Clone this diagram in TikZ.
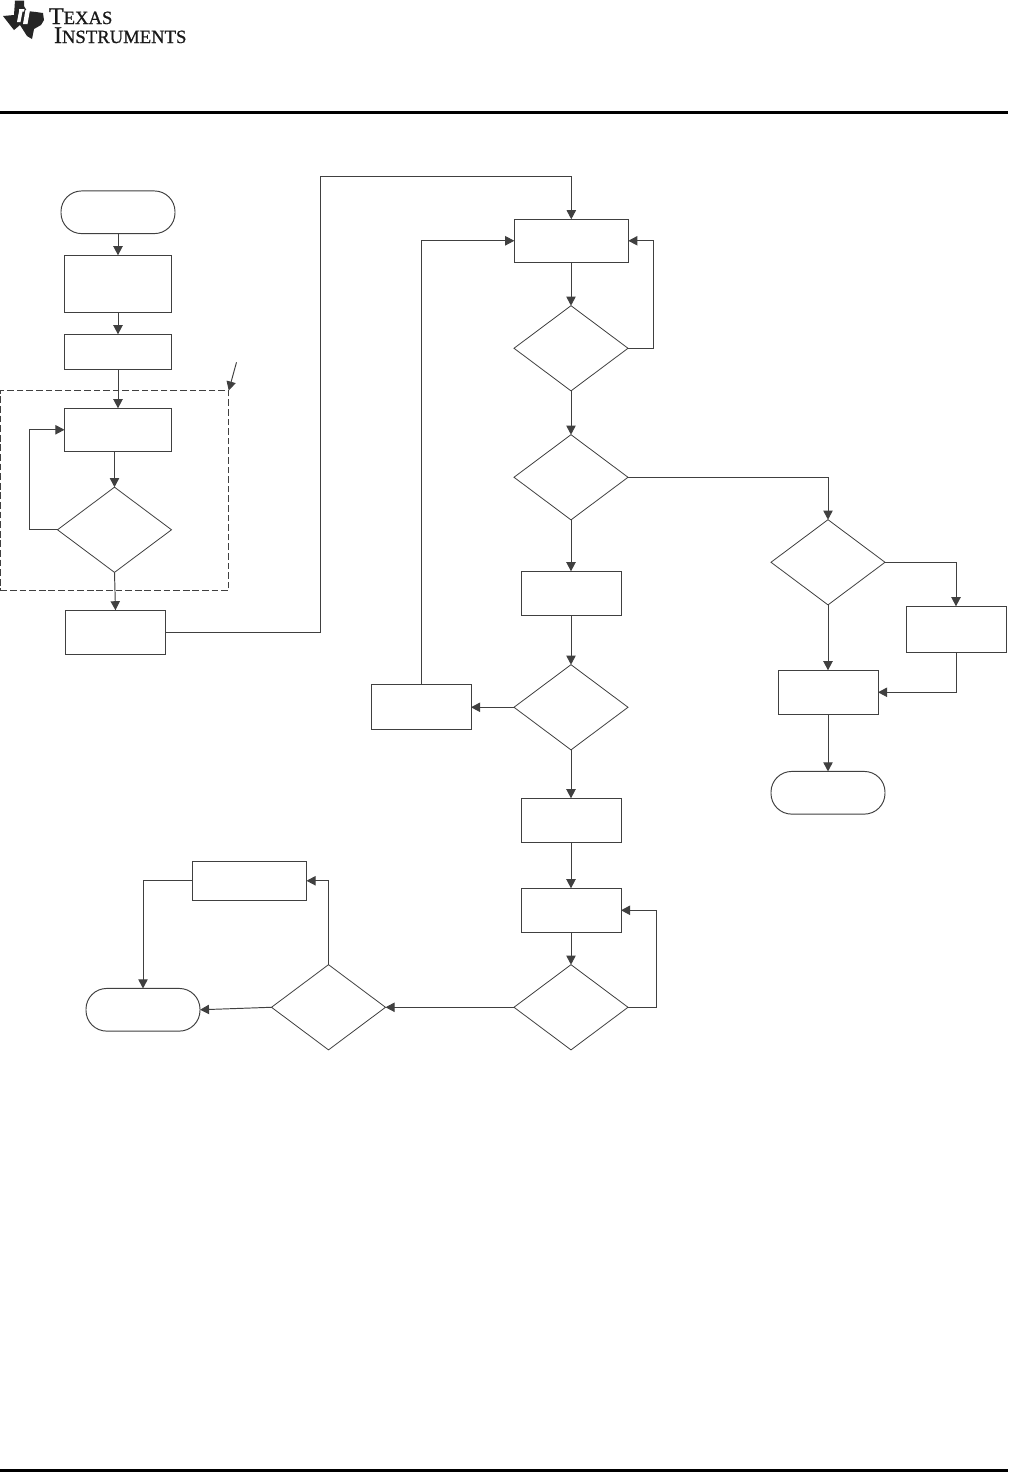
\documentclass[tikz,border=0pt]{standalone}
\usepackage{fontspec}
\setmainfont{Liberation Serif}
\newfontfamily\logofont[FakeBold=0.8]{Liberation Serif}
\usetikzlibrary{shapes.geometric,arrows.meta,calc}
\tikzset{
  x=0.75pt,y=-0.75pt,
  ink/.style={draw=black!75,line width=0.72pt},
  pbox/.style={ink,rectangle,inner sep=0pt,outer sep=0pt},
  term/.style={pbox,rounded corners=15.5pt,minimum width=85.5pt,minimum height=32pt},
  dec/.style={ink,line width=0.6pt,diamond,aspect=1.33,inner sep=0pt,outer sep=0pt,minimum width=85.5pt,minimum height=63.9pt},
  flow/.style={ink,-{Triangle[length=6.8pt,width=7pt]}},
  bar/.style={fill=black,draw=none},
  logotext/.style={inner sep=0pt,outer sep=0pt,anchor=base west,align=left,font=\logofont\fontsize{14}{14.25}\selectfont,text=black!90}
}
\newcommand{\Bx}[6]{\node[pbox,minimum width=#4*0.75pt,minimum height=#5*0.75pt] (#1) at (#2,#3) {#6};}
\begin{document}
\begin{tikzpicture}
\useasboundingbox (0,0) rectangle (1008,1472);
\fill[white] (0,0) rectangle (1008,1472);
% page furniture
\fill[bar] (0,111) rectangle (1008,114.3);
\fill[bar] (0,1469) rectangle (1008,1472);
% logo
\fill[black!85] (15,0.5) -- (24,0.5) -- (24,6) -- (27,11) -- (36,12) -- (43,13) -- (44,20) -- (41,25) -- (34,29) -- (32,39) -- (27,36) -- (20,25) -- (14,30) -- (10,25) -- (3,16) -- (14,15) -- cycle;
\fill[white] (27.5,4.5) -- (31,4.5) -- (30.5,8) -- (27,8) -- cycle (25.5,10) -- (30,10) -- (27.5,24) -- (23,24) -- cycle;
\fill[white] (19,9) -- (24.5,9) -- (24,11.5) -- (22.5,11.5) -- (20.5,22) -- (17,22) -- (19,11.5) -- cycle;
\node[logotext] (logo) at (49,43) {{\fontsize{18}{18}\selectfont T}EXAS\\[0pt]\hspace*{3.75pt}{\fontsize{18}{18}\selectfont I}NSTRUMENTS};
\begin{scope}[yshift=-0.2pt]
% left column
\node[term] (start) at (118,212) {};
\Bx{b1}{118}{283.5}{107}{57}{}
\Bx{b2}{118}{351.5}{107}{35}{}
\node[pbox,dashed,dash pattern=on 5pt off 2.2pt,minimum width=171.2pt,minimum height=150pt] (group) at (114.6,490.3) {};
\Bx{b3}{118}{429.5}{107}{43}{}
\node[dec] (d1) at (114.5,529.5) {};
\Bx{b4}{115.5}{632}{100}{44}{}
% centre column
\Bx{b5}{571.3}{240.5}{114}{43}{}
\node[dec] (d2) at (571,348) {};
\node[dec] (d3) at (571,477) {};
\Bx{b6}{571}{593}{100}{44}{}
\node[dec] (d4) at (571,707) {};
\Bx{b7}{421}{706.5}{100}{45}{}
\Bx{b8}{571}{820}{100}{44}{}
\Bx{b9}{571}{910}{100}{44}{}
\node[dec] (d5) at (571,1007) {};
\node[dec] (d6) at (328.5,1007) {};
\Bx{b10}{249.5}{880.5}{114}{39}{}
\node[term] (end1) at (143,1009.5) {};
% right column
\node[dec] (d7) at (828,562) {};
\Bx{b11}{956}{629}{100}{46}{}
\Bx{b12}{828}{692}{100}{44}{}
\node[term] (end2) at (828,792.5) {};
% connectors
\draw[flow] (start) -- (b1);
\draw[flow] (b1) -- (b2);
\draw[flow] (b2) -- (b3);
\draw[flow] (d1.north |- b3.south) -- (d1.north);
\draw[flow] (d1.south) -- (b4.north);
\coordinate (l1) at (29,0);
\draw[flow] (d1.west) -- (l1 |- d1.west) -- (l1 |- b3.west) -- (b3.west);
\coordinate (l2) at (320,0);
\coordinate (l3) at (0,176);
\draw[flow] (b4.east) -- (l2 |- b4.east) -- (l2 |- l3) -- (b5.north |- l3) -- (b5.north);
\draw[flow] (b5.south -| d2.north) -- (d2.north);
\coordinate (l4) at (653,0);
\draw[flow] (d2.east) -- (l4 |- d2.east) -- (l4 |- b5.east) -- (b5.east);
\draw[flow] (d2) -- (d3);
\draw[flow] (d3.east) -- (d7.north |- d3.east) -- (d7.north);
\draw[flow] (d3) -- (b6);
\draw[flow] (b6) -- (d4);
\draw[flow] (d4.west) -- (b7.east |- d4.west);
\draw[flow] (b7.north) -- (b7.north |- b5.west) -- (b5.west);
\draw[flow] (d4) -- (b8);
\draw[flow] (b8) -- (b9);
\draw[flow] (b9) -- (d5);
\coordinate (l5) at (656,0);
\draw[flow] (d5.east) -- (l5 |- d5.east) -- (l5 |- b9.east) -- (b9.east);
\draw[flow] (d5.west) -- (d6.east);
\draw[flow] (d6.north) -- (d6.north |- b10.east) -- (b10.east);
\draw[flow] (d6.west) -- (end1.east);
\draw[flow] (b10.west) -- (end1.north |- b10.west) -- (end1.north);
\draw[flow] (d7.east) -- (b11.north |- d7.east) -- (b11.north);
\draw[flow] (d7) -- (b12);
\draw[flow] (b11.south) -- (b11.south |- b12.east) -- (b12.east);
\draw[flow] (b12) -- (end2);
\coordinate (ptr) at (236.5,362);
\draw[flow] (ptr) -- (group.north east);
\end{scope}
\end{tikzpicture}
\end{document}
